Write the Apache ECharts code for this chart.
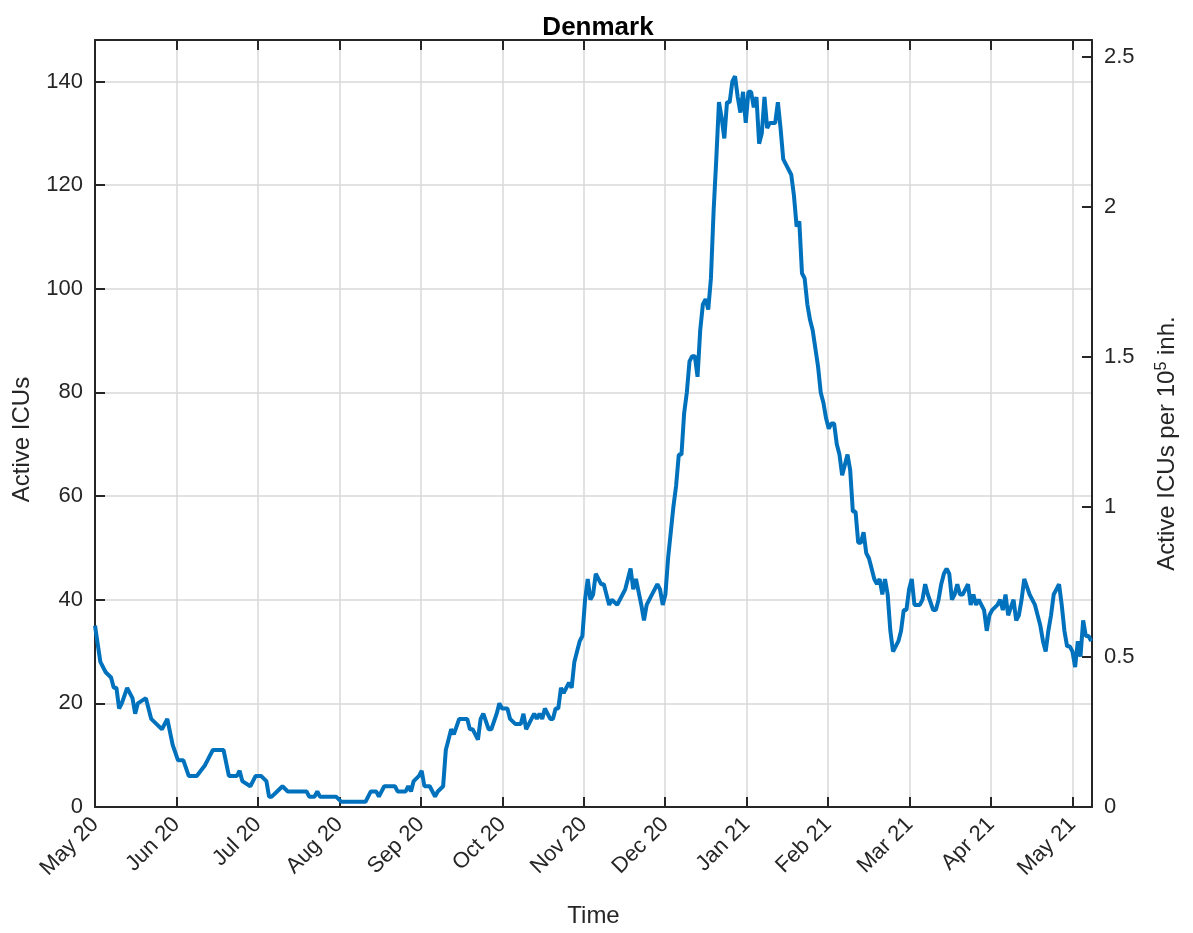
<!DOCTYPE html>
<html>
<head>
<meta charset="utf-8">
<script src="https://cdn.jsdelivr.net/npm/echarts@6/dist/echarts.min.js"></script>
<style>
html, body { margin: 0; padding: 0; background: #fff; }
#chart { width: 1193px; height: 933px; }
</style>
</head>
<body>
<div id="chart"></div>
<script>
// month tick labels, evenly spaced (365/12 days apart)
const monthLabels = ['May 20', 'Jun 20', 'Jul 20', 'Aug 20', 'Sep 20', 'Oct 20', 'Nov 20',
    'Dec 20', 'Jan 21', 'Feb 21', 'Mar 21', 'Apr 21', 'May 21']

// days since 1 May 2020
const dayIndex = [
    0, 2, 4, 6, 7, 8, 9, 10, 12, 14, 15, 16, 19, 21, 23, 25, 26, 27, 29, 31,
    33, 35, 38, 41, 42, 44, 48, 50, 53, 54, 55, 58, 60, 62, 64, 65, 66, 68, 70, 72,
    79, 80, 82, 83, 84, 90, 92, 101, 103, 105, 106, 108, 112, 113, 116, 117, 118, 119, 121, 122,
    123, 125, 127, 128, 130, 131, 132, 133, 134, 136, 137, 139, 140, 141, 142, 143, 144, 145, 147, 148,
    150, 151, 152, 154, 155, 157, 159, 160, 161, 163, 164, 165, 166, 167, 168, 170, 171, 172, 173, 174,
    175, 177, 178, 179, 180, 181, 182, 183, 184, 185, 186, 187, 189, 190, 192, 193, 195, 197, 198, 200,
    201, 202, 204, 205, 206, 207, 210, 211, 212, 213, 214, 215, 216, 217, 218, 219, 220, 221, 222, 223,
    224, 225, 226, 227, 228, 229, 230, 231, 232, 233, 234, 235, 236, 237, 238, 239, 240, 241, 242, 243,
    244, 245, 246, 247, 248, 249, 250, 251, 252, 254, 255, 256, 257, 258, 260, 261, 262, 263, 264, 265,
    266, 267, 268, 270, 271, 272, 273, 274, 275, 276, 277, 278, 279, 280, 281, 282, 283, 284, 285, 286,
    287, 288, 289, 290, 291, 292, 293, 294, 295, 296, 297, 298, 299, 300, 301, 302, 303, 304, 305, 306,
    308, 309, 310, 311, 313, 314, 315, 316, 317, 318, 319, 320, 321, 322, 323, 324, 325, 326, 327, 328,
    329, 330, 332, 333, 334, 335, 337, 338, 339, 340, 341, 343, 344, 345, 346, 347, 349, 350, 351, 352,
    353, 354, 355, 356, 357, 358, 359, 360, 361, 362, 363, 364, 365, 366, 367, 368, 369, 370, 371, 372,
]

const activeIcu = [
    35, 28, 26, 25, 23, 23, 19, 20, 23, 21, 18, 20, 21, 17, 16, 15, 16, 17, 12, 9,
    9, 6, 6, 8, 9, 11, 11, 6, 6, 7, 5, 4, 6, 6, 5, 2, 2, 3, 4, 3,
    3, 2, 2, 3, 2, 2, 1, 1, 3, 3, 2, 4, 4, 3, 3, 4, 3, 5, 6, 7,
    4, 4, 2, 3, 4, 11, 13, 15, 14, 17, 17, 17, 15, 15, 14, 13, 17, 18, 15, 15,
    18, 20, 19, 19, 17, 16, 16, 18, 15, 17, 18, 17, 18, 17, 19, 17, 17, 19, 19, 23,
    22, 24, 23, 28, 30, 32, 33, 40, 44, 40, 41, 45, 43, 43, 39, 40, 39, 41, 42, 46,
    42, 44, 39, 36, 39, 40, 43, 42, 39, 41, 48, 53, 58, 62, 68, 68, 76, 80, 86, 87,
    87, 83, 92, 97, 98, 96, 102, 115, 125, 136, 133, 129, 136, 136, 140, 141, 137, 134, 138, 132,
    138, 138, 135, 137, 128, 130, 137, 131, 132, 132, 136, 131, 125, 124, 122, 118, 112, 113, 103, 102,
    97, 94, 92, 85, 80, 78, 75, 73, 74, 74, 70, 68, 64, 66, 68, 65, 57, 57, 51, 51,
    53, 49, 48, 46, 44, 43, 44, 41, 44, 41, 34, 30, 31, 32, 34, 38, 38, 42, 44, 39,
    39, 40, 43, 41, 38, 38, 40, 43, 45, 46, 45, 40, 41, 43, 41, 41, 42, 43, 39, 41,
    39, 40, 38, 34, 37, 38, 39, 40, 38, 41, 37, 40, 36, 37, 40, 44, 41, 40, 39, 37,
    35, 32, 30, 34, 37, 41, 42, 43, 39, 34, 31, 31, 30, 27, 32, 29, 36, 33, 33, 32,
]

const leftMax = 148
const icuPerRightUnit = 57.88 // ICUs per 1 unit of "per 10^5 inh."
const xMax = 372.3
const monthStep = 365 / 12

const textColor = '#262626'
const fontFamily = '"Liberation Sans", Arial, Helvetica, sans-serif'

const chart = echarts.init(document.getElementById('chart'), null, { renderer: 'canvas' })

const monthFormatter = value => {
    const idx = Math.round(value / monthStep)
    if (Math.abs(value - idx * monthStep) > 0.01) return ''
    return monthLabels[idx] ?? ''
}

// fresh objects per axis so echarts never shares them
const axisLine = () => ({ show: true, onZero: false, lineStyle: { color: textColor, width: 2 } })
const axisTick = () => ({ show: true, inside: true, length: 10, lineStyle: { color: textColor, width: 2 } })
const gridLine = () => ({ show: true, lineStyle: { color: '#d9d9d9', width: 1.5 } })

chart.setOption({
    animation: false,
    backgroundColor: '#fff',
    textStyle: { fontFamily },
    title: {
        text: 'Denmark',
        left: 593,
        textAlign: 'center',
        top: 10,
        textStyle: { fontFamily, fontSize: 26, fontWeight: 'bold', color: '#000' },
    },
    grid: { left: 95, right: 101, top: 40, bottom: 125, containLabel: false },
    xAxis: [
        {
            type: 'value',
            position: 'bottom',
            min: 0,
            max: xMax,
            interval: monthStep,
            name: 'Time',
            nameLocation: 'middle',
            nameGap: 97,
            nameTextStyle: { fontFamily, fontSize: 24, color: textColor },
            axisLine: axisLine(),
            axisTick: axisTick(),
            splitLine: gridLine(),
            axisLabel: {
                rotate: 45,
                margin: 14,
                fontSize: 22,
                color: textColor,
                fontFamily,
                showMaxLabel: false,
                formatter: monthFormatter,
            },
        },
        {
            type: 'value',
            position: 'top',
            min: 0,
            max: xMax,
            interval: monthStep,
            axisLine: axisLine(),
            axisTick: axisTick(),
            splitLine: { show: false },
            axisLabel: { show: false },
        },
    ],
    yAxis: [
        {
            type: 'value',
            position: 'left',
            min: 0,
            max: leftMax,
            interval: 20,
            name: 'Active ICUs',
            nameLocation: 'middle',
            nameGap: 61,
            nameTextStyle: { fontFamily, fontSize: 24, color: textColor, padding: [0, 32, 0, 0] },
            axisLine: axisLine(),
            axisTick: axisTick(),
            splitLine: gridLine(),
            axisLabel: {
                margin: 12,
                fontSize: 22,
                color: textColor,
                fontFamily,
                showMaxLabel: false,
                formatter: v => (v % 20 === 0 ? String(v) : ''),
            },
        },
        {
            type: 'value',
            position: 'right',
            min: 0,
            max: leftMax / icuPerRightUnit,
            interval: 0.5,
            name: '{t|Active ICUs per 10}{s|5}{t| inh.}',
            nameLocation: 'middle',
            nameGap: 62,
            nameTextStyle: {
                color: textColor,
                padding: [0, 40, 0, 0],
                rich: {
                    t: { fontFamily, fontSize: 24, color: textColor },
                    s: { fontFamily, fontSize: 16, color: textColor, verticalAlign: 'top', padding: [0, 0, 10, 0] },
                },
            },
            axisLine: axisLine(),
            axisTick: axisTick(),
            splitLine: { show: false },
            axisLabel: {
                margin: 12,
                fontSize: 22,
                color: textColor,
                fontFamily,
                showMaxLabel: false,
                formatter: v => (Math.abs(v * 2 - Math.round(v * 2)) < 1e-6 ? String(v) : ''),
            },
        },
    ],
    series: [
        {
            name: 'Active ICUs',
            type: 'line',
            xAxisIndex: 0,
            yAxisIndex: 0,
            showSymbol: false,
            lineStyle: { color: '#0072BD', width: 4 },
            data: dayIndex.map((d, i) => [d, activeIcu[i]]),
        },
    ],
})
</script>
</body>
</html>
